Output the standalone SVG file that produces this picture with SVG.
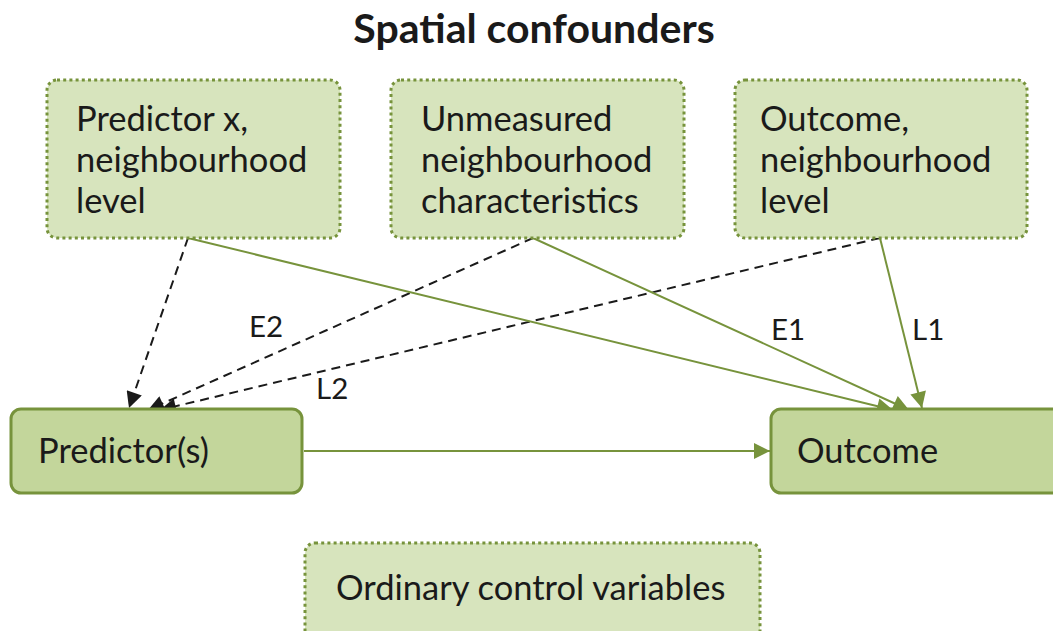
<svg xmlns="http://www.w3.org/2000/svg" width="1053" height="631" viewBox="0 0 1053 631">
  <defs>
    <style>
      .txt { font-family: Lato, "Open Sans", "Liberation Sans", sans-serif; fill: #1a1a1a; }
      .title { font-size: 41px; font-weight: bold; }
      .lbl { font-size: 34.5px; }
      .edge-lbl { font-size: 29.5px; }
      .soft { fill: #D7E4BD; stroke: #77933C; stroke-width: 3; stroke-dasharray: 3 3.2; }
      .main { fill: #C3D69B; stroke: #77933C; stroke-width: 3; }
      .green { stroke: #77933C; stroke-width: 2; fill: none; }
      .dash { stroke: #1a1a1a; stroke-width: 2; fill: none; stroke-dasharray: 9 6; }
    </style>
    <marker id="ag" viewBox="0 0 10 10" refX="10" refY="5" markerWidth="9" markerHeight="8" markerUnits="strokeWidth" orient="auto">
      <path d="M0,0 L10,5 L0,10 z" fill="#77933C"/>
    </marker>
    <marker id="ab" viewBox="0 0 10 10" refX="10" refY="5" markerWidth="9" markerHeight="8" markerUnits="strokeWidth" orient="auto">
      <path d="M0,0 L10,5 L0,10 z" fill="#1a1a1a"/>
    </marker>
  </defs>

  <text class="txt title" x="534" y="43" text-anchor="middle">Spatial confounders</text>

  <g id="connectors">
    <line class="green" x1="304" y1="451" x2="770" y2="451" marker-end="url(#ag)"/>
    <line class="dash" x1="188" y1="238" x2="129" y2="408" marker-end="url(#ab)"/>
    <line class="dash" x1="533" y1="238" x2="148" y2="410" marker-end="url(#ab)"/>
    <line class="dash" x1="880" y1="238" x2="160" y2="410" marker-end="url(#ab)"/>
    <line class="green" x1="188" y1="238" x2="893" y2="410" marker-end="url(#ag)"/>
    <line class="green" x1="533" y1="238" x2="909" y2="410" marker-end="url(#ag)"/>
    <line class="green" x1="880" y1="238" x2="922" y2="408" marker-end="url(#ag)"/>
    <text class="txt edge-lbl" x="249" y="337">E2</text>
    <text class="txt edge-lbl" x="316" y="399">L2</text>
    <text class="txt edge-lbl" x="771" y="340">E1</text>
    <text class="txt edge-lbl" x="912" y="340">L1</text>
  </g>

  <g id="predictor-x-neighbourhood">
    <rect class="soft" x="47" y="80" width="293" height="158" rx="10"/>
    <text class="txt lbl" x="76" y="131">Predictor x,</text>
    <text class="txt lbl" x="76" y="172">neighbourhood</text>
    <text class="txt lbl" x="76" y="213">level</text>
  </g>

  <g id="unmeasured-neighbourhood">
    <rect class="soft" x="391" y="80" width="293" height="158" rx="10"/>
    <text class="txt lbl" x="421" y="131">Unmeasured</text>
    <text class="txt lbl" x="421" y="172">neighbourhood</text>
    <text class="txt lbl" x="421" y="213">characteristics</text>
  </g>

  <g id="outcome-neighbourhood">
    <rect class="soft" x="735" y="80" width="292" height="158" rx="10"/>
    <text class="txt lbl" x="760" y="131">Outcome,</text>
    <text class="txt lbl" x="760" y="172">neighbourhood</text>
    <text class="txt lbl" x="760" y="213">level</text>
  </g>

  <g id="predictors">
    <rect class="main" x="11" y="409" width="291" height="84" rx="10"/>
    <text class="txt lbl" x="38" y="463">Predictor(s)</text>
  </g>

  <g id="outcome">
    <rect class="main" x="771" y="409" width="300" height="84" rx="10"/>
    <text class="txt lbl" x="797" y="463">Outcome</text>
  </g>

  <g id="ordinary-controls">
    <rect class="soft" x="305" y="543" width="455" height="100" rx="10"/>
    <text class="txt lbl" x="336" y="600">Ordinary control variables</text>
  </g>
</svg>
